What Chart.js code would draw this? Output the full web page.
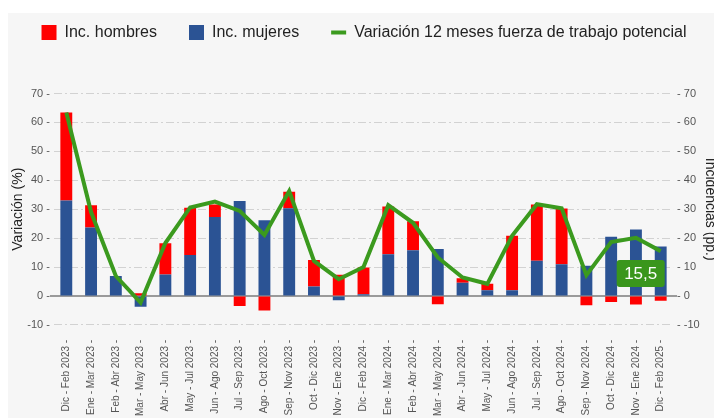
<!DOCTYPE html>
<html>
<head>
<meta charset="utf-8">
<script src="https://cdn.jsdelivr.net/npm/chart.js@4.4.1/dist/chart.umd.min.js"></script>
<style>
  html, body { margin: 0; padding: 0; background: #fff; width: 714px; height: 418px; overflow: hidden; }
  #wrap { position: absolute; left: 8px; top: 13px; width: 712px; height: 405px; background: #f6f6f6; }
</style>
</head>
<body>
<div id="wrap"><canvas id="barChart" width="712" height="405"></canvas></div>
<script>
var periodos = ['Dic - Feb 2023', 'Ene - Mar 2023', 'Feb - Abr 2023', 'Mar - May 2023', 'Abr - Jun 2023',
  'May - Jul 2023', 'Jun - Ago 2023', 'Jul - Sep 2023', 'Ago - Oct 2023', 'Sep - Nov 2023',
  'Oct - Dic 2023', 'Nov - Ene 2023', 'Dic - Feb 2024', 'Ene - Mar 2024', 'Feb - Abr 2024',
  'Mar - May 2024', 'Abr - Jun 2024', 'May - Jul 2024', 'Jun - Ago 2024', 'Jul - Sep 2024',
  'Ago - Oct 2024', 'Sep - Nov 2024', 'Oct - Dic 2024', 'Nov - Ene 2024', 'Dic - Feb 2025'];
var incHombres = [30.4, 7.7, 0, 0.9, 10.8, 16.3, 4.3, -3.5, -5.0, 5.7, 9.1, 7.3, 9.2,
  16.5, 10.0, -2.9, 1.5, 2.2, 18.8, 19.4, 19.2, -3.2, -2.1, -3.0, -1.7];
var incMujeres = [33.0, 23.7, 6.9, -3.7, 7.4, 14.2, 27.3, 32.8, 26.2, 30.3, 3.3, -1.5, 0.6,
  14.4, 15.8, 16.2, 4.6, 2.0, 2.0, 12.2, 11.0, 10.4, 20.5, 23.0, 17.1];
var variacion = [63.4, 29.0, 6.9, -2.3, 18.3, 30.6, 32.6, 29.4, 21.1, 36.3, 12.1, 5.8, 10.0,
  31.4, 25.3, 13.3, 6.4, 4.2, 20.8, 31.7, 30.3, 7.2, 18.6, 20.1, 15.5];
var yTicks = { min: -10, max: 70, step: 10 };

Chart.defaults.font.family = "'Liberation Sans', Arial, sans-serif";

// zero line (solid) drawn under bars
var zeroLine = {
  id: 'zeroLine',
  beforeDatasetsDraw: function(chart) {
    var ctx = chart.ctx, a = chart.chartArea;
    var y = Math.round(chart.scales.y.getPixelForValue(0));
    ctx.save();
    ctx.strokeStyle = '#9a9a9a';
    ctx.lineWidth = 2;
    ctx.beginPath();
    ctx.moveTo(a.left - 4, y);
    ctx.lineTo(a.right + 4, y);
    ctx.stroke();
    ctx.restore();
  }
};

// label on last point of the line
var lastLabel = {
  id: 'lastLabel',
  afterDatasetsDraw: function(chart) {
    var meta = chart.getDatasetMeta(2);
    var pt = meta.data[meta.data.length - 1];
    var ctx = chart.ctx;
    var w = 48, h = 27;
    var x = pt.x - 44, y = pt.y + 9;
    ctx.save();
    ctx.fillStyle = '#3a961c';
    ctx.beginPath();
    ctx.roundRect(x, y, w, h, 3);
    ctx.fill();
    ctx.fillStyle = '#fff';
    ctx.font = "17px 'Liberation Sans', Arial, sans-serif";
    ctx.textAlign = 'center';
    ctx.textBaseline = 'middle';
    ctx.fillText(String(variacion[variacion.length - 1]).replace('.', ','), x + w / 2, y + h / 2 + 1);
    ctx.restore();
  }
};

var legendMargin = {
  id: 'legendMargin',
  beforeInit: function(chart) {
    var fit = chart.legend.fit;
    chart.legend.fit = function() {
      fit.bind(chart.legend)();
      this.height += 43;
    };
  }
};

var ctxB = document.getElementById('barChart').getContext('2d');
var myChart = new Chart(ctxB, {
  type: 'bar',
  data: {
    labels: periodos,
    datasets: [
      {
        label: 'Inc. hombres',
        data: incHombres,
        backgroundColor: '#ff0000',
        borderWidth: 0,
        pointStyle: 'rect',
        yAxisID: 'y1',
        order: 2,
        barPercentage: 0.48,
        categoryPercentage: 1
      },
      {
        label: 'Inc. mujeres',
        data: incMujeres,
        backgroundColor: '#2b5394',
        borderWidth: 0,
        pointStyle: 'rect',
        yAxisID: 'y1',
        order: 1,
        barPercentage: 0.48,
        categoryPercentage: 1
      },
      {
        type: 'line',
        label: 'Variación 12 meses fuerza de trabajo potencial',
        data: variacion,
        borderColor: '#3b9a1e',
        backgroundColor: '#3b9a1e',
        borderWidth: 4,
        pointRadius: 0,
        pointStyle: 'line',
        tension: 0,
        yAxisID: 'y',
        order: 0
      }
    ]
  },
  options: {
    responsive: false,
    animation: false,
    layout: { padding: { top: -20.5, bottom: -13, left: 0, right: 0 } },
    plugins: {
      tooltip: { enabled: false },
      legend: {
        position: 'top',
        labels: {
          usePointStyle: true,
          pointStyleWidth: 15,
          boxHeight: 15,
          boxWidth: 15,
          padding: 32,
          color: '#222',
          font: { size: 16 },
          sort: function(a, b) { return a.datasetIndex - b.datasetIndex; }
        }
      }
    },
    scales: {
      x: {
        stacked: true,
        grid: { display: false, drawTicks: false },
        border: { display: false },
        ticks: {
          autoSkip: false,
          minRotation: 90,
          maxRotation: 90,
          padding: 15,
          color: '#555',
          font: { size: 10 },
          callback: function(v) { return periodos[v] + ' -'; }
        }
      },
      y: {
        position: 'left',
        min: yTicks.min,
        max: yTicks.max,
        grid: {
          drawTicks: false,
          color: function(c) { return c.tick.value === 0 ? 'rgba(0,0,0,0)' : '#d2d2d2'; },
          lineWidth: 1
        },
        border: { display: false, dash: [8, 3, 2, 3] },
        ticks: {
          stepSize: yTicks.step,
          padding: 4,
          color: '#555',
          font: { size: 11 },
          callback: function(v) { return v + ' -'; }
        },
        title: {
          display: true,
          text: 'Variación (%)',
          color: '#222',
          font: { size: 14 },
          padding: { top: 2, bottom: -3.5 }
        }
      },
      y1: {
        position: 'right',
        stacked: true,
        min: yTicks.min,
        max: yTicks.max,
        grid: { drawOnChartArea: false, drawTicks: false },
        border: { display: false },
        ticks: {
          stepSize: yTicks.step,
          padding: 4,
          color: '#555',
          font: { size: 11 },
          callback: function(v) { return '- ' + v; }
        },
        title: {
          display: true,
          text: 'Incidencias (pp.)',
          color: '#222',
          font: { size: 14 },
          padding: { top: 1.5, bottom: -2 }
        }
      }
    }
  },
  plugins: [zeroLine, lastLabel, legendMargin]
});
</script>
</body>
</html>
